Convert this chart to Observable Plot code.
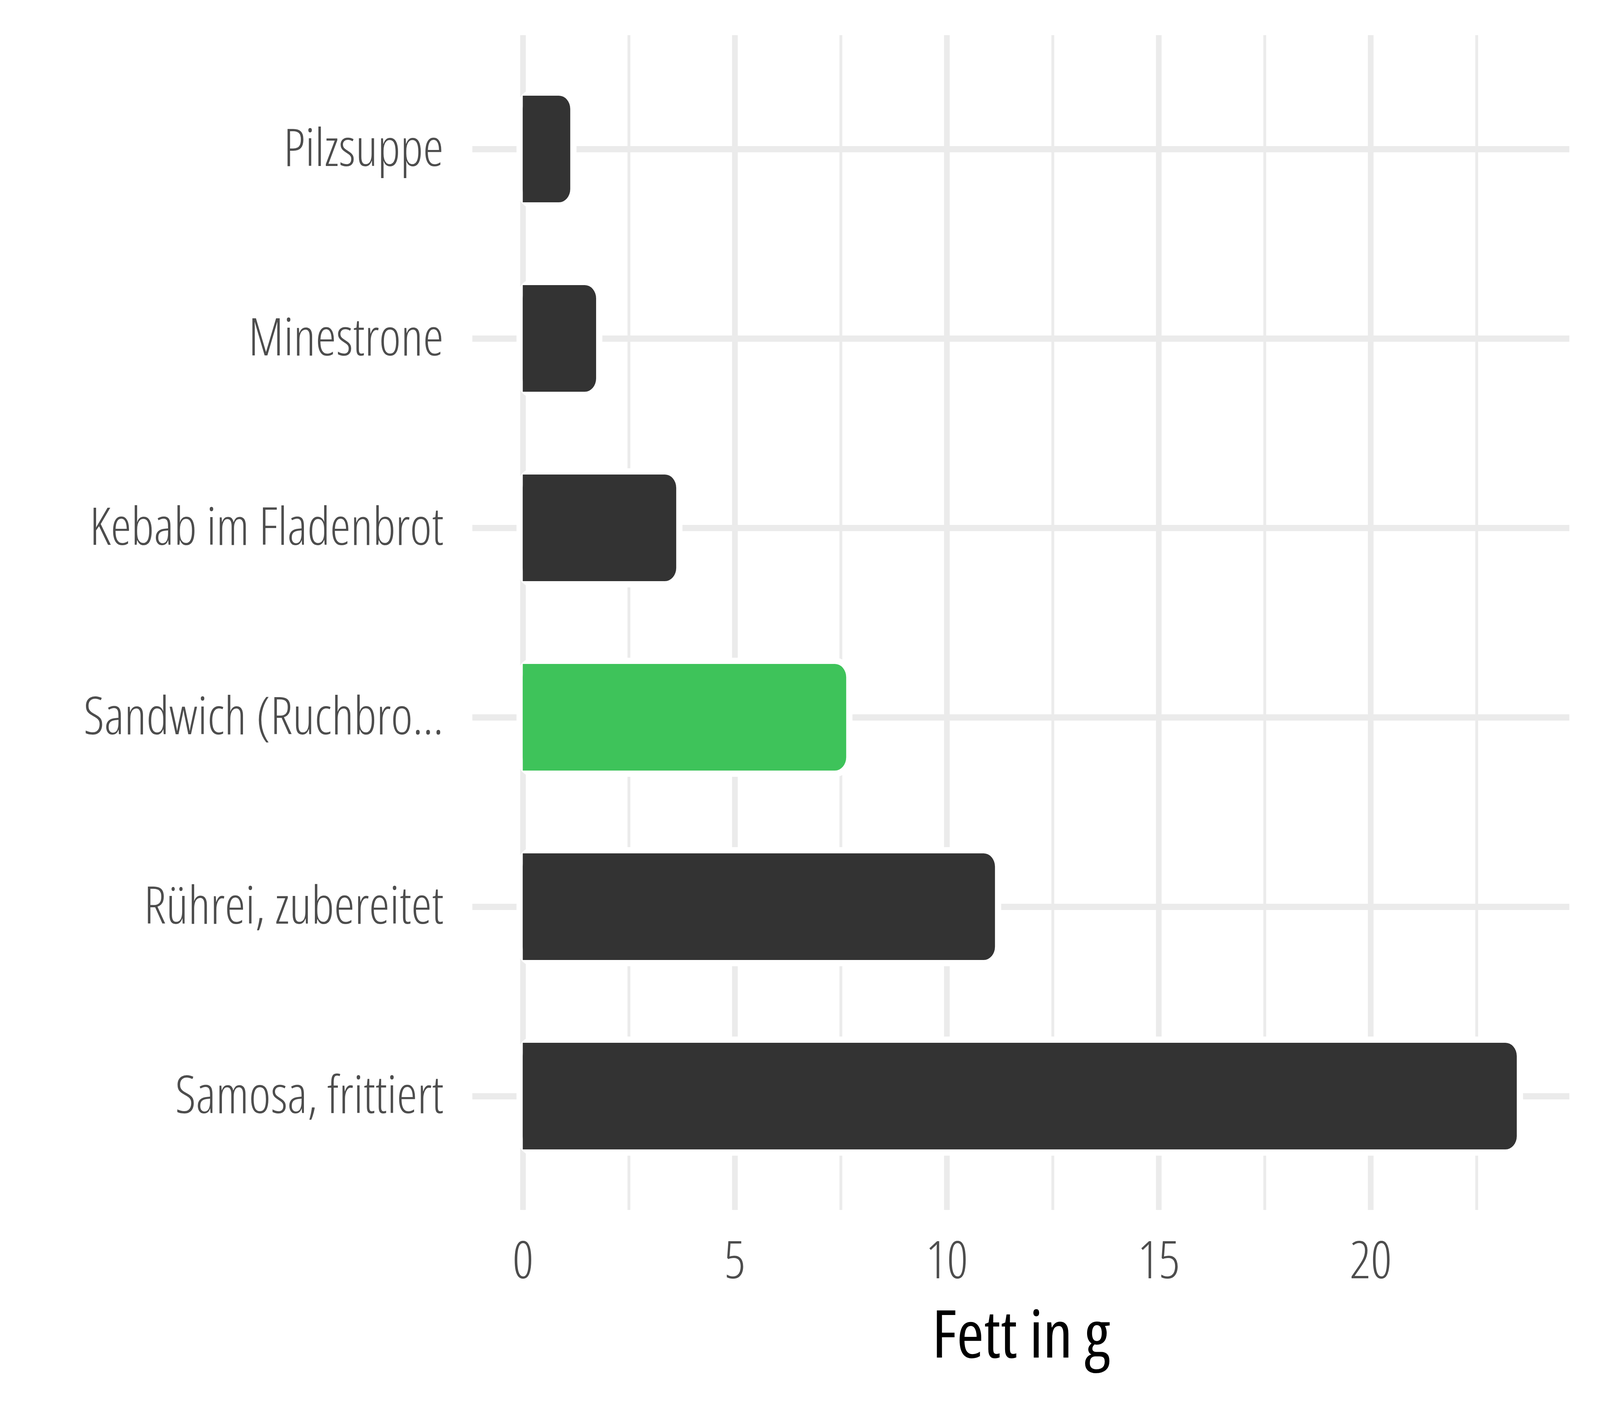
<!DOCTYPE html>
<html>
<head>
<meta charset="utf-8">
<script src="https://cdn.jsdelivr.net/npm/d3@7"></script>
<script src="https://cdn.jsdelivr.net/npm/@observablehq/plot@0.6"></script>
<style>
  html, body { margin: 0; padding: 0; background: #ffffff; overflow: hidden; }
  #chart svg { display: block; }
  #chart svg text { font-stretch: 85%; }
</style>
</head>
<body>
<div id="chart"></div>
<script>
// Data
const categories = [
  "Pilzsuppe",
  "Minestrone",
  "Kebab im Fladenbrot",
  "Sandwich (Ruchbro...",
  "Rührei, zubereitet",
  "Samosa, frittiert"
];
const fat = [1.12, 1.73, 3.62, 7.63, 11.14, 23.45];
const highlighted = "Sandwich (Ruchbro...";
const majorTicks = [0, 5, 10, 15, 20];
const minorTicks = [2.5, 7.5, 12.5, 17.5, 22.5];
const xLabel = "Fett in g";

const data = categories.map((name, i) => ({name, value: fat[i]}));

const dark = "#333333";
const green = "#3ec35a";
const grid = "#ebebeb";
const textColor = "#4d4d4d";

const W = window.innerWidth || 4800;
const H = window.innerHeight || 3600;
const sx = W / 4800, sy = H / 3600;

function draw(fs, fsLabel) {
  return Plot.plot({
    width: W,
    height: H,
    marginLeft: 1417 * sx,
    marginRight: 92 * sx,
    marginTop: 90 * sy,
    marginBottom: 502 * sy,
    style: {fontFamily: "'Open Sans', 'Noto Sans', sans-serif", background: "#ffffff"},
    x: {domain: [-1.19, 24.69], axis: null},
    y: {domain: categories, paddingInner: 0, paddingOuter: 0.1, axis: null},
    marks: [
      Plot.ruleX(minorTicks, {stroke: grid, strokeWidth: 8.5 * sx}),
      Plot.ruleX(majorTicks, {stroke: grid, strokeWidth: 17 * sx}),
      Plot.ruleY(categories, {y: d => d, stroke: grid, strokeWidth: 16 * sy}),
      Plot.barX(data, {
        x1: 0, x2: "value", y: "name",
        insetTop: 106 * sy, insetBottom: 106 * sy,
        rx: 34 * sx, ry: 34 * sy,
        fill: d => d.name === highlighted ? green : dark,
        stroke: "#ffffff", strokeWidth: 32, paintOrder: "stroke"
      }),
      Plot.barX(data, {
        x1: 0, x2: d => d.value / 2, y: "name",
        insetTop: 106 * sy, insetBottom: 106 * sy,
        fill: d => d.name === highlighted ? green : dark
      }),
      Plot.axisY({
        tickSize: 0, tickPadding: 87 * sx, fontSize: fs,
        color: textColor, fontWeight: 300, label: null
      }),
      Plot.axisX({
        ticks: majorTicks, tickSize: 0, tickPadding: 80 * sy, fontSize: fs,
        color: textColor, fontWeight: 300, label: null
      }),
      Plot.text([xLabel], {
        text: d => d, frameAnchor: "bottom", dy: 377 * sy, lineAnchor: "bottom",
        fontSize: fsLabel, fill: "#000000", fontWeight: 400
      })
    ]
  });
}

const host = document.getElementById("chart");
let fs = 133 * sy, fsLabel = 168 * sy;
let chart = draw(fs, fsLabel);
host.appendChild(chart);
// keep the longest category label inside the left edge, as in the reference
const g = chart.querySelector('g[aria-label="y-axis tick label"]');
if (g) {
  const b = g.getBBox();
  const minLeft = 92 * sx;
  const avail = (1417 - 87) * sx - minLeft;
  if (b.x < minLeft && b.width > 0) {
    const k = avail / b.width;
    fs = fs * k;
    fsLabel = fsLabel * Math.max(k, 0.85);
    host.removeChild(chart);
    chart = draw(fs, fsLabel);
    host.appendChild(chart);
  }
}
</script>
</body>
</html>
